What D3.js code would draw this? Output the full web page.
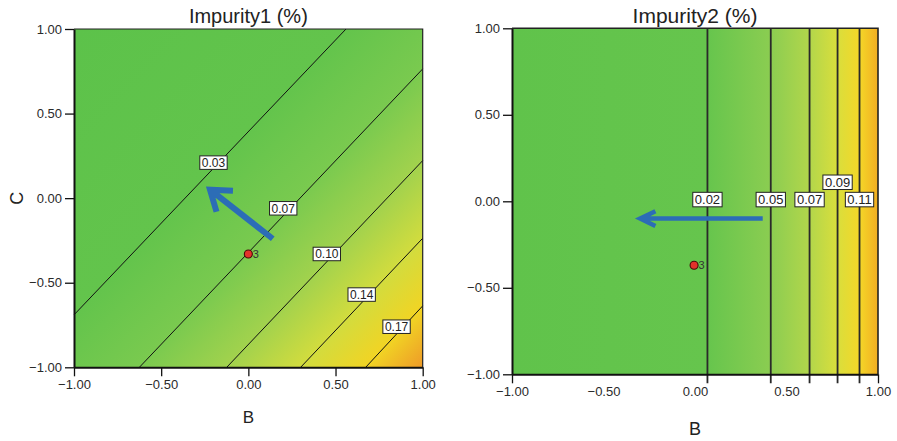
<!DOCTYPE html>
<html>
<head>
<meta charset="utf-8">
<script src="https://cdn.jsdelivr.net/npm/d3@7"></script>
<style>
  body { margin: 0; background: #fff; }
  text { font-family: "Liberation Sans", Arial, sans-serif; }
</style>
</head>
<body>
<div id="chart"></div>
<script>
var tickValues = [-1, -0.5, 0, 0.5, 1];
var pointLabel = "3";

// Impurity1 - contour lines given by their two ends (B, C)
var imp1Levels = [0.03, 0.07, 0.10, 0.14, 0.17];
var imp1Lines = [
  [[-1, -0.69], [0.56, 1]],
  [[-0.625, -1], [1, 0.764]],
  [[-0.124, -1], [1, 0.222]],
  [[0.30, -1], [1, -0.237]],
  [[0.673, -1], [1, -0.637]]
];
var imp1LabelPos = [[-0.20, 0.21], [0.20, -0.06], [0.45, -0.33], [0.65, -0.57], [0.85, -0.76]];
var imp1Corners = [0.0, 0.20];   // top-left, bottom-right
var imp1Point = [0.0, -0.33];
var imp1Arrow = [[0.14, -0.24], [-0.22, 0.05]];

// Impurity2 - vertical contours at these B values
var imp2Levels = [0.02, 0.05, 0.07, 0.09, 0.11];
var imp2LineB = [0.068, 0.414, 0.626, 0.779, 0.899];
var imp2LabelC = [0.01, 0.01, 0.01, 0.11, 0.01];
var imp2Edges = [0.0, 0.125];    // B = -1, B = 1
var imp2Point = [-0.005, -0.37];
var imp2Arrow = [[0.37, -0.10], [-0.30, -0.10]];

var fmt = d3.format(".2f");

var svg = d3.select("#chart").append("svg")
  .attr("width", 897)
  .attr("height", 441);
var defs = svg.append("defs");

function drawAxes(g, x, y, opt) {
  var xAxis = d3.axisBottom(x).tickValues(tickValues).tickFormat(fmt)
    .tickSize(9).tickSizeOuter(0).tickPadding(3);
  var yAxis = d3.axisLeft(y).tickValues(tickValues).tickFormat(fmt)
    .tickSize(9).tickSizeOuter(0).tickPadding(3);

  var gx = g.append("g")
    .attr("transform", "translate(0," + y.range()[0] + ")")
    .call(xAxis);
  var gy = g.append("g")
    .attr("transform", "translate(" + x.range()[0] + ",0)")
    .call(yAxis);

  [gx, gy].forEach(function(a) {
    a.select(".domain").attr("stroke", "#111").attr("stroke-width", 2);
    a.selectAll(".tick line").attr("stroke", "#111").attr("stroke-width", 1.3);
    a.selectAll(".tick text").attr("fill", "#2a2a2a").style("font-size", "13px");
  });
  if (opt.noInnerXTicks) {
    gx.selectAll(".tick line").filter(function(d) { return Math.abs(d) < 1; }).remove();
  }

  // thin frame top / right
  g.append("path")
    .attr("d", "M" + x.range()[0] + "," + y.range()[1] + "H" + x.range()[1] + "V" + y.range()[0])
    .attr("fill", "none")
    .attr("stroke", "#222")
    .attr("stroke-width", opt.frameWidth);
}

function drawLabel(g, px, py, txt, size) {
  var lab = g.append("g").attr("transform", "translate(" + px + "," + py + ")");
  var box = lab.append("rect");
  var t = lab.append("text")
    .attr("text-anchor", "middle")
    .attr("dy", "0.36em")
    .attr("fill", "#222")
    .style("font-size", size + "px")
    .text(txt);
  var w = t.node().getComputedTextLength() + 4;
  var h = size + 1.5;
  box.attr("x", -w / 2).attr("y", -h / 2).attr("width", w).attr("height", h)
    .attr("fill", "#fff").attr("stroke", "#222").attr("stroke-width", 1);
}

function drawArrow(g, x, y, arr, width, headLen, headAng) {
  var x0 = x(arr[0][0]), y0 = y(arr[0][1]);
  var x1 = x(arr[1][0]), y1 = y(arr[1][1]);
  var ang = Math.atan2(y0 - y1, x0 - x1);
  var a1 = ang + headAng, a2 = ang - headAng;
  g.append("path")
    .attr("d", "M" + x0 + "," + y0 + "L" + x1 + "," + y1 +
      "M" + (x1 + headLen * Math.cos(a1)) + "," + (y1 + headLen * Math.sin(a1)) +
      "L" + x1 + "," + y1 +
      "L" + (x1 + headLen * Math.cos(a2)) + "," + (y1 + headLen * Math.sin(a2)))
    .attr("fill", "none")
    .attr("stroke", "#2c6db6")
    .attr("stroke-width", width)
    .attr("stroke-linejoin", "miter");
}

function drawPoint(g, x, y, p) {
  g.append("circle")
    .attr("cx", x(p[0])).attr("cy", y(p[1])).attr("r", 4)
    .attr("fill", "#e4322b").attr("stroke", "#4a0a0a").attr("stroke-width", 1.1);
  g.append("text")
    .attr("x", x(p[0]) + 4.5).attr("y", y(p[1]) + 4)
    .attr("fill", "#333")
    .style("font-size", "11px")
    .text(pointLabel);
}

// ---------- Impurity1 ----------
(function() {
  var x = d3.scaleLinear().domain([-1, 1]).range([74, 422.7]);
  var y = d3.scaleLinear().domain([-1, 1]).range([367.3, 29]);
  var color = d3.scaleLinear()
    .domain([0, 0.03, 0.07, 0.10, 0.14, 0.17, 0.20])
    .range(["#5cc24a", "#63c44c", "#7aca4f", "#a2d24d", "#d2dc3e", "#f1d424", "#ee9a28"]);
  var g = svg.append("g");

  // gradient runs across the (near parallel) contour lines
  var ref = imp1Lines[1];
  var dx = x(ref[1][0]) - x(ref[0][0]), dy = y(ref[1][1]) - y(ref[0][1]);
  var len = Math.sqrt(dx * dx + dy * dy);
  var nx = -dy / len, ny = dx / len;
  var ox = x(-1), oy = y(1);
  function proj(px, py) { return (px - ox) * nx + (py - oy) * ny; }
  var L = proj(x(1), y(-1));

  var stops = [{v: imp1Corners[0], t: 0}];
  imp1Lines.forEach(function(l, i) {
    var mx = (x(l[0][0]) + x(l[1][0])) / 2, my = (y(l[0][1]) + y(l[1][1])) / 2;
    stops.push({v: imp1Levels[i], t: proj(mx, my) / L});
  });
  stops.push({v: imp1Corners[1], t: 1});

  var grad = defs.append("linearGradient").attr("id", "grad1")
    .attr("gradientUnits", "userSpaceOnUse")
    .attr("x1", ox).attr("y1", oy)
    .attr("x2", ox + nx * L).attr("y2", oy + ny * L);
  grad.selectAll("stop").data(stops).enter().append("stop")
    .attr("offset", function(d) { return d.t; })
    .attr("stop-color", function(d) { return color(d.v); });

  g.append("rect")
    .attr("x", x(-1)).attr("y", y(1))
    .attr("width", x(1) - x(-1)).attr("height", y(-1) - y(1))
    .attr("fill", "url(#grad1)");

  g.selectAll(".contour").data(imp1Lines).enter().append("line")
    .attr("class", "contour")
    .attr("x1", function(d) { return x(d[0][0]); })
    .attr("y1", function(d) { return y(d[0][1]); })
    .attr("x2", function(d) { return x(d[1][0]); })
    .attr("y2", function(d) { return y(d[1][1]); })
    .attr("stroke", "#111")
    .attr("stroke-width", 1);

  drawAxes(g, x, y, {frameWidth: 1.2});

  drawArrow(g, x, y, imp1Arrow, 6, 23, 0.62);
  drawPoint(g, x, y, imp1Point);
  imp1Levels.forEach(function(v, i) {
    drawLabel(g, x(imp1LabelPos[i][0]), y(imp1LabelPos[i][1]), fmt(v), 12);
  });

  g.append("text")
    .attr("x", (x(-1) + x(1)) / 2).attr("y", 22.7)
    .attr("text-anchor", "middle")
    .attr("fill", "#222")
    .style("font-size", "20px")
    .text("Impurity1 (%)");
  g.append("text")
    .attr("x", (x(-1) + x(1)) / 2).attr("y", 422.7)
    .attr("text-anchor", "middle")
    .attr("fill", "#222")
    .style("font-size", "17px")
    .text("B");
  g.append("text")
    .attr("transform", "translate(23.3," + y(0) + ") rotate(-90)")
    .attr("text-anchor", "middle")
    .attr("fill", "#222")
    .style("font-size", "18px")
    .text("C");
})();

// ---------- Impurity2 ----------
(function() {
  var x = d3.scaleLinear().domain([-1, 1]).range([512, 878]);
  var y = d3.scaleLinear().domain([-1, 1]).range([374.3, 28.3]);
  var color = d3.scaleLinear()
    .domain([0, 0.02, 0.05, 0.07, 0.09, 0.11, 0.125])
    .range(["#60c34b", "#66c54d", "#8bcd51", "#b2d64b", "#d9de3c", "#f4d728", "#f2ad22"]);
  var g = svg.append("g");

  var stops = [{v: imp2Edges[0], t: 0}];
  imp2LineB.forEach(function(b, i) {
    stops.push({v: imp2Levels[i], t: (x(b) - x(-1)) / (x(1) - x(-1))});
  });
  stops.push({v: imp2Edges[1], t: 1});

  var grad = defs.append("linearGradient").attr("id", "grad2")
    .attr("gradientUnits", "userSpaceOnUse")
    .attr("x1", x(-1)).attr("y1", 0)
    .attr("x2", x(1)).attr("y2", 0);
  grad.selectAll("stop").data(stops).enter().append("stop")
    .attr("offset", function(d) { return d.t; })
    .attr("stop-color", function(d) { return color(d.v); });

  g.append("rect")
    .attr("x", x(-1)).attr("y", y(1))
    .attr("width", x(1) - x(-1)).attr("height", y(-1) - y(1))
    .attr("fill", "url(#grad2)");

  // contour lines run a little past the bottom axis
  g.selectAll(".contour").data(imp2LineB).enter().append("line")
    .attr("class", "contour")
    .attr("x1", function(d) { return x(d); })
    .attr("x2", function(d) { return x(d); })
    .attr("y1", y(1))
    .attr("y2", y(-1) + 9)
    .attr("stroke", "#2a2a2a")
    .attr("stroke-width", 1.8);

  drawAxes(g, x, y, {frameWidth: 1.6, noInnerXTicks: true});

  drawArrow(g, x, y, imp2Arrow, 4.5, 17, 0.45);
  drawPoint(g, x, y, imp2Point);
  imp2Levels.forEach(function(v, i) {
    drawLabel(g, x(imp2LineB[i]), y(imp2LabelC[i]), fmt(v), 13);
  });

  g.append("text")
    .attr("x", (x(-1) + x(1)) / 2).attr("y", 22.7)
    .attr("text-anchor", "middle")
    .attr("fill", "#222")
    .style("font-size", "21px")
    .text("Impurity2 (%)");
  g.append("text")
    .attr("x", (x(-1) + x(1)) / 2).attr("y", 435)
    .attr("text-anchor", "middle")
    .attr("fill", "#222")
    .style("font-size", "18px")
    .text("B");
})();
</script>
</body>
</html>
